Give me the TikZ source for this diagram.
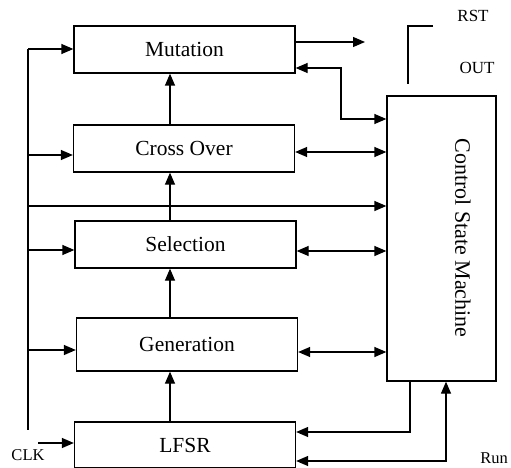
\documentclass[tikz,border=0pt]{standalone}
\usepackage{fontspec}
\setmainfont{Liberation Serif}
\usetikzlibrary{arrows.meta}
\tikzset{>={Triangle[length=12pt,width=10pt]}}
\tikzset{
	block/.style={draw, line width=1.3pt, minimum width=221pt, minimum height=47pt, inner sep=0pt, font=\fontsize{21.5}{25}\selectfont},
	wire/.style={line width=1.3pt},
	small/.style={font=\fontsize{16.5}{20}\selectfont, inner sep=0pt}
}

\begin{document}
\begin{tikzpicture}[x=1pt,y=-1pt]
            \useasboundingbox (0,0) rectangle (511,468);
            % the five stages
            \node[block] (mutation) at (184.5,49.5) {Mutation};
            \node[block] (crossover) at (184,148.5) {Cross Over};
            \node[block] (selection) at (185.5,244.5) {Selection};
            \node[block, minimum height=53pt] (generation) at (187,344.5) {Generation};
            \node[block, minimum height=46pt] (lfsr) at (185,445) {LFSR};
            \node[draw, line width=1.3pt, minimum width=109pt, minimum height=285pt] (csm) at (441.5,238.5) {};
            \node[rotate=-90, font=\fontsize{22}{25}\selectfont] (csmtext) at (463,238) {Control State Machine};
            % labels
            \node[small] (clk) at (28,455) {CLK};
            \node[small, font=\fontsize{17}{20}\selectfont] (rst) at (473,16) {RST};
            \node[small, font=\fontsize{17}{20}\selectfont] (out) at (477,68) {OUT};
            \node[small, anchor=east] (run) at (508,458) {Run};
            % clock bus
            \coordinate (bustop) at (28,49);
            \coordinate (busbot) at (28,430);
            \draw[wire] (bustop) -- (busbot);
            \foreach \y/\n in {49/mutation, 155/crossover, 250/selection, 350/generation}
                \draw[wire,->] (28,\y) -- (\n.west |- 0,\y);
            \draw[wire,->] (28,206) -- (csm.west |- 0,206);
            \coordinate (clkin) at (38,443);
            \draw[wire,->] (clkin) -- (lfsr.west |- clkin);
            % data flow upwards
            \draw[wire,->] (170,0 |- lfsr.north) -- (170,0 |- generation.south);
            \draw[wire,->] (170,0 |- generation.north) -- (170,0 |- selection.south);
            \draw[wire,->] (170,0 |- selection.north) -- (170,0 |- crossover.south);
            \draw[wire,->] (170,0 |- crossover.north) -- (170,0 |- mutation.south);
            % control lines
            \coordinate (mutout) at (365,42);
            \draw[wire,->] (mutation.east |- mutout) -- (mutout);
            \draw[wire,<->] (mutation.east |- 0,68) -- (341,68) -- (341,119) -- (csm.west |- 0,119);
            \foreach \y/\n in {152/crossover, 251/selection, 352/generation}
                \draw[wire,<->] (\n.east |- 0,\y) -- (csm.west |- 0,\y);
            \draw[wire,->] (410,0 |- csm.south) |- (lfsr.east |- 0,432);
            \draw[wire,<->] (lfsr.east |- 0,461) -| (446,0 |- csm.south);
            % reset / output stub
            \coordinate (rstend) at (433,26);
            \coordinate (outend) at (408,84);
            \draw[wire] (rstend) -- (408,26) -- (outend);
        \end{tikzpicture}
\end{document}
